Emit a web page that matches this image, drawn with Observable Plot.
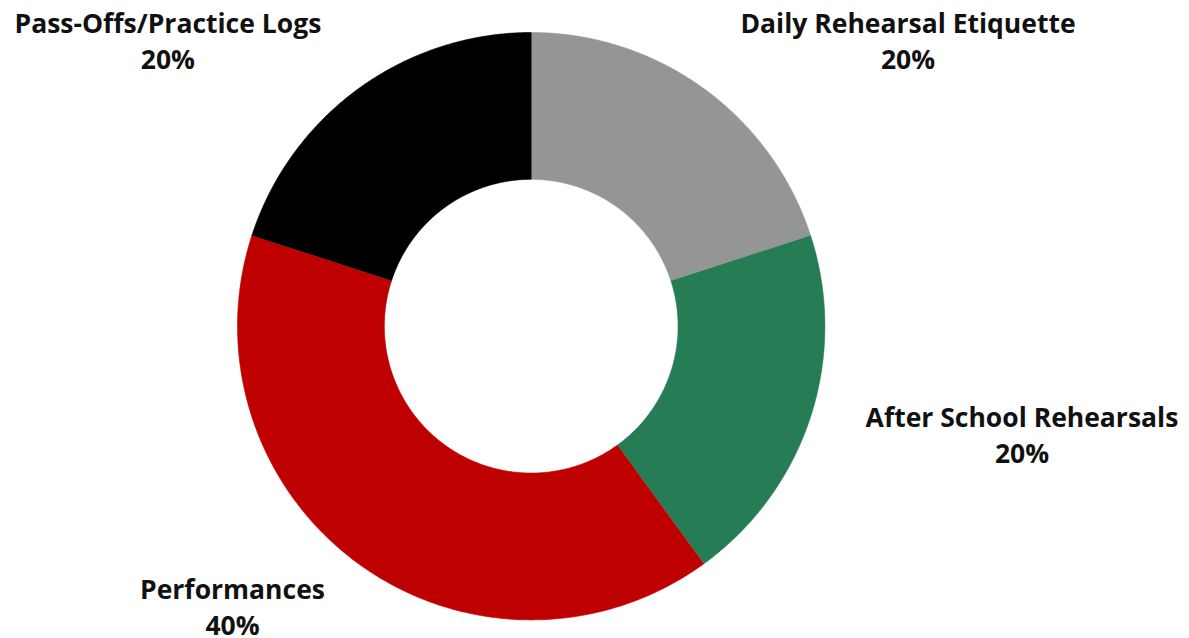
<!DOCTYPE html>
<html>
<head>
<meta charset="utf-8">
<script src="https://cdn.jsdelivr.net/npm/d3@7"></script>
<script src="https://cdn.jsdelivr.net/npm/@observablehq/plot@0.6"></script>
<style>
  html, body { margin: 0; padding: 0; background: #fff; }
</style>
</head>
<body>
<div id="chart"></div>
<script>
// Data
const categories = ["Daily Rehearsal Etiquette", "After School Rehearsals", "Performances", "Pass-Offs/Practice Logs"];
const shares = [20, 20, 40, 20];
const colors = ["#939694", "#267c55", "#bf0000", "#000000"];

// Layout (label anchor positions in units of the outer radius, relative to the donut centre)
const labelX = [1.283, 1.671, -1.017, -1.237];
const labelY = [0.976, -0.365, -0.951, 0.976];

const outerR = 1, innerR = 0.5, steps = 180;
const arcs = d3.pie().sort(null)(shares);

// Build ring-segment outlines from the pie angles
const ring = [];
arcs.forEach((a, i) => {
  const name = categories[i];
  for (let k = 0; k <= steps; k++) {
    const t = a.startAngle + (a.endAngle - a.startAngle) * k / steps;
    ring.push({name, x: outerR * Math.sin(t), y: outerR * Math.cos(t)});
  }
  for (let k = steps; k >= 0; k--) {
    const t = a.startAngle + (a.endAngle - a.startAngle) * k / steps;
    ring.push({name, x: innerR * Math.sin(t), y: innerR * Math.cos(t)});
  }
});

const labels = categories.map((name, i) => ({
  name, share: shares[i], x: labelX[i], y: labelY[i]
}));

const chart = Plot.plot({
  width: 1189,
  height: 638,
  marginLeft: 237,
  marginRight: 364.6,
  marginTop: 32,
  marginBottom: 18.6,
  x: {domain: [-1, 1], axis: null},
  y: {domain: [-1, 1], axis: null},
  color: {domain: categories, range: colors},
  style: {fontFamily: "'Open Sans', sans-serif", background: "#fff", overflow: "visible"},
  marks: [
    Plot.line(ring, {x: "x", y: "y", z: "name", fill: "name", stroke: "name", strokeWidth: 0.6, curve: "linear"}),
    Plot.text(labels, {
      x: "x", y: "y",
      text: d => `${d.name}\n${d.share}%`,
      fontSize: 26.5, fontWeight: 700, lineHeight: 1.34,
      fill: "#111"
    })
  ]
});
document.getElementById("chart").appendChild(chart);
</script>
</body>
</html>
